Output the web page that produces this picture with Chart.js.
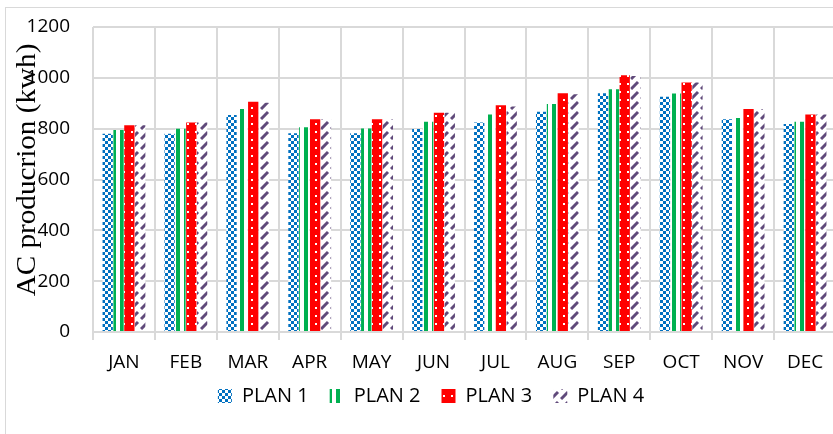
<!DOCTYPE html>
<html>
<head>
<meta charset="utf-8">
<script src="https://cdn.jsdelivr.net/npm/chart.js@4"></script>
<style>
  html, body { margin: 0; padding: 0; background: #fff; overflow: hidden; }
  #frame { position: absolute; left: 5px; top: 7px; width: 900px; height: 440px; border: 1px solid #d9d9d9; }
  #wrap { position: absolute; left: 0; top: 0; width: 844px; height: 437px; }
</style>
</head>
<body>
<div id="frame"></div>
<div id="wrap"><canvas id="acChart"></canvas></div>
<script>
var months = ["JAN", "FEB", "MAR", "APR", "MAY", "JUN", "JUL", "AUG", "SEP", "OCT", "NOV", "DEC"];
var plan1 = [780, 780, 854, 782, 782, 799, 824, 867, 939, 926, 837, 818];
var plan2 = [795, 800, 877, 806, 801, 827, 856, 897, 955, 938, 842, 827];
var plan3 = [813, 824, 906, 837, 837, 863, 892, 939, 1010, 982, 877, 856];
var plan4 = [813, 824, 902, 837, 837, 863, 887, 935, 1007, 982, 877, 856];
var yTicks = [0, 200, 400, 600, 800, 1000, 1200];

// little fill patterns, like the excel ones
function makePattern(w, h, draw) {
  var c = document.createElement('canvas');
  c.width = w; c.height = h;
  var g = c.getContext('2d');
  draw(g);
  return g.createPattern(c, 'repeat');
}
var checker = makePattern(6, 6, function (g) {
  g.fillStyle = '#fff'; g.fillRect(0, 0, 6, 6);
  g.fillStyle = '#0070C0';
  g.fillRect(0, 0, 3, 3); g.fillRect(3, 3, 3, 3);
});
var vstripes = makePattern(8, 8, function (g) {
  g.fillStyle = '#fff'; g.fillRect(0, 0, 8, 8);
  g.fillStyle = '#00B050'; g.fillRect(0, 0, 4, 8);
});
var reddots = makePattern(8, 8, function (g) {
  g.fillStyle = '#FF0000'; g.fillRect(0, 0, 8, 8);
  g.fillStyle = '#fff'; g.fillRect(3, 3, 2, 2);
});
var diag = makePattern(10, 10, function (g) {
  g.fillStyle = '#fff'; g.fillRect(0, 0, 10, 10);
  g.strokeStyle = '#604A7B'; g.lineWidth = 3;
  g.beginPath(); g.moveTo(1, 9); g.lineTo(8, 2); g.stroke();
});

// axis title sits over the tick labels in the original
var yTitle = {
  id: 'yTitle',
  afterDraw: function (chart) {
    var c = chart.ctx;
    c.save();
    c.translate(28, 170);
    c.rotate(-Math.PI / 2);
    c.scale(1.08, 1);
    c.fillStyle = '#000';
    c.font = '27px "Liberation Serif"';
    c.textAlign = 'center';
    c.textBaseline = 'middle';
    c.fillText('AC producrion (kwh)', 0, 0);
    c.restore();
  }
};

// legend keeps wide gaps between items but sits closer to the axis
var legendUp = {
  id: 'legendUp',
  afterLayout: function (chart) {
    chart.legend.top -= 21;
    chart.legend.bottom -= 21;
  }
};

var ctx = document.getElementById('acChart').getContext('2d');
var acChart = new Chart(ctx, {
  type: 'bar',
  data: {
    labels: months,
    datasets: [
      { label: 'PLAN 1', data: plan1, backgroundColor: checker, borderWidth: 0 },
      { label: 'PLAN 2', data: plan2, backgroundColor: vstripes, borderWidth: 0 },
      { label: 'PLAN 3', data: plan3, backgroundColor: reddots, borderWidth: 0 },
      { label: 'PLAN 4', data: plan4, backgroundColor: diag, borderWidth: 0 }
    ]
  },
  options: {
    responsive: true,
    maintainAspectRatio: false,
    animation: false,
    categoryPercentage: 0.7,
    barPercentage: 0.95,
    layout: { padding: { left: 26, right: 8, top: 27, bottom: 0 } },
    plugins: {
      legend: {
        position: 'bottom',
        labels: {
          boxWidth: 14, boxHeight: 14, padding: 21, color: '#000',
          font: { family: 'Open Sans', size: 20 }
        }
      },
      tooltip: { enabled: false }
    },
    scales: {
      x: {
        grid: { color: '#d9d9d9', lineWidth: 2, offset: true, tickLength: 8 },
        border: { color: '#d9d9d9', width: 2 },
        ticks: { color: '#000', padding: 11.6, font: { family: 'Open Sans', size: 19 }, maxRotation: 0 }
      },
      y: {
        min: 0, max: 1200,
        afterBuildTicks: function (axis) { axis.ticks = yTicks.map(function (v) { return { value: v }; }); },
        afterFit: function (axis) { axis.width = 67; axis.paddingTop = 0; axis.paddingBottom = 0; },
        grid: { color: '#d9d9d9', lineWidth: 2, drawTicks: false },
        border: { display: false },
        ticks: {
          color: '#000', padding: 23, font: { family: 'Open Sans', size: 19 },
          callback: function (v) { return String(v); }
        }
      }
    }
  },
  plugins: [yTitle, legendUp]
});
</script>
</body>
</html>
